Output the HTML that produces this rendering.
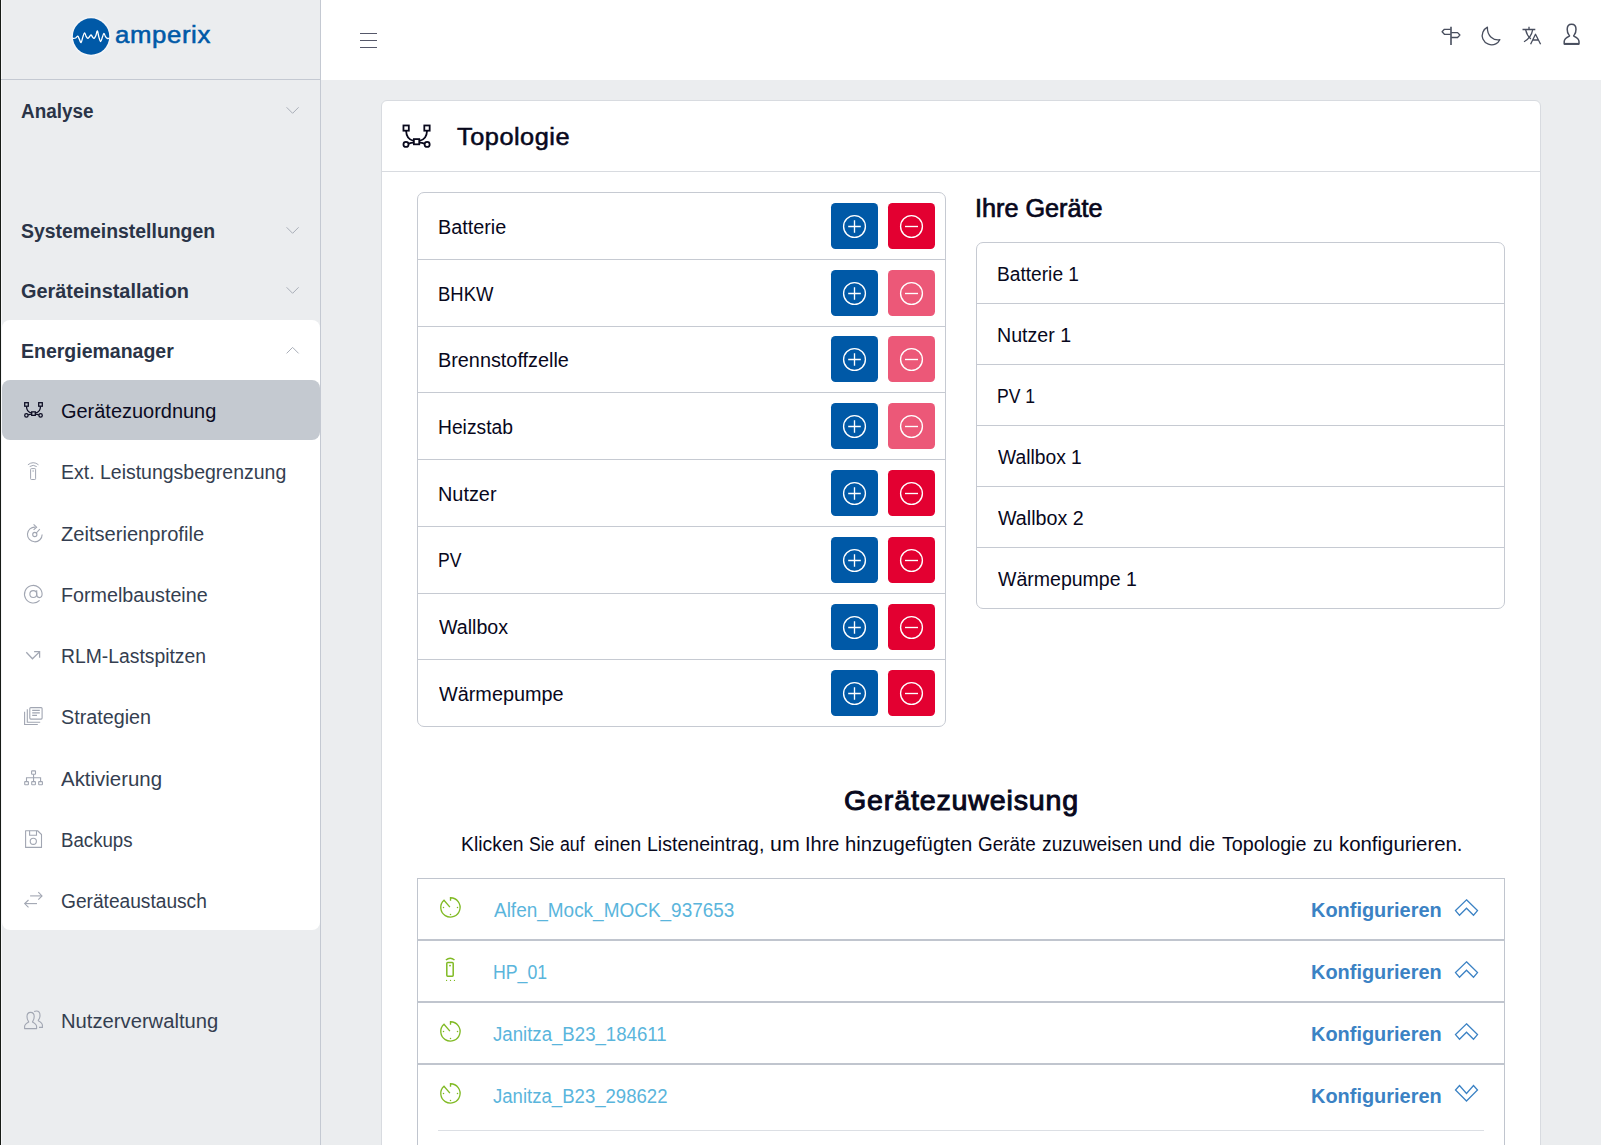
<!DOCTYPE html>
<html lang="de"><head><meta charset="utf-8"><title>amperix – Topologie</title>
<style>
html,body{margin:0;padding:0}
body{width:1601px;height:1145px;overflow:hidden;position:relative;background:#ebedef;font-family:"Liberation Sans", sans-serif;}
div,span,svg{box-sizing:border-box}
</style></head><body>
<!-- left window edge -->
<div style="position:absolute;left:0;top:0;width:1px;height:1145px;background:#171b16"></div>
<div style="position:absolute;left:1px;top:0;width:1px;height:1145px;background:#f6f7f9"></div>
<!-- sidebar -->
<div style="position:absolute;left:320px;top:0;width:1px;height:1145px;background:#c4c9d2"></div>
<div style="position:absolute;left:1px;top:79px;width:320px;height:1px;background:#c4c9d2"></div>
<div style="position:absolute;left:2px;top:320px;width:318px;height:610px;background:#fff;border-radius:8px"></div>
<div style="position:absolute;left:2px;top:380px;width:318px;height:60px;background:#c4c9d0;border-radius:8px"></div>
<svg style="position:absolute;left:60px;top:10px;overflow:visible" width="60" height="55" viewBox="0 0 60 55" ><circle cx="31.05" cy="26.55" r="20.3" fill="#eef0f3"/><circle cx="31.05" cy="26.55" r="19.4" fill="#f6f7f9"/><circle cx="31.05" cy="26.55" r="18.2" fill="#0059a7"/><path d="M12.80 28.40 C13.28 28.33 14.87 28.38 15.70 28.00 C16.53 27.62 17.23 26.00 17.80 26.10 C18.37 26.20 18.55 27.52 19.10 28.60 C19.65 29.68 20.48 32.85 21.10 32.60 C21.72 32.35 22.23 28.73 22.80 27.10 C23.37 25.47 23.95 22.93 24.50 22.80 C25.05 22.67 25.55 25.37 26.10 26.30 C26.65 27.23 27.23 28.33 27.80 28.40 C28.37 28.47 28.95 27.28 29.50 26.70 C30.05 26.12 30.58 24.83 31.10 24.90 C31.62 24.97 32.10 26.52 32.60 27.10 C33.10 27.68 33.55 28.67 34.10 28.40 C34.65 28.13 35.35 26.75 35.90 25.50 C36.45 24.25 36.90 20.63 37.40 20.90 C37.90 21.17 38.35 25.33 38.90 27.10 C39.45 28.87 40.12 31.50 40.70 31.50 C41.28 31.50 41.87 28.45 42.40 27.10 C42.93 25.75 43.38 23.47 43.90 23.40 C44.42 23.33 44.95 25.87 45.50 26.70 C46.05 27.53 46.57 28.12 47.20 28.40 C47.83 28.68 48.95 28.40 49.30 28.40" fill="none" stroke="#fff" stroke-width="1.3" stroke-linejoin="round" stroke-linecap="butt"/></svg>
<svg style="position:absolute;left:15px;top:395px;overflow:visible" width="40" height="30" viewBox="0 0 40 30" ><g fill="none" stroke="#0b0b22" stroke-width="1.27" stroke-linejoin="miter"><rect x="9.7" y="7.7" width="3.6" height="3.5"/><rect x="23.7" y="7.7" width="3.6" height="3.5"/><rect x="16.7" y="16.85" width="3.6" height="3.5"/><circle cx="11.4" cy="20.4" r="1.7"/><circle cx="25.6" cy="20.4" r="1.7"/><path d="M11.5 11.4 C11.6 15.2 13.6 17.4 16.6 18.0"/><path d="M25.5 11.4 C25.4 15.2 23.4 17.4 20.4 18.0"/><path d="M13.2 19.9 C14.4 19.4 15.4 19.2 16.6 19.2"/><path d="M23.8 19.9 C22.6 19.4 21.6 19.2 20.4 19.2"/></g></svg><svg style="position:absolute;left:15px;top:455px;overflow:visible" width="40" height="30" viewBox="0 0 40 30" ><g fill="none" stroke="#a1a6b2" stroke-width="0.99" stroke-linecap="butt"><rect x="15.6" y="13.6" width="5" height="10.9" rx="0.8"/><circle cx="18.1" cy="16" r="0.75" fill="#a1a6b2" stroke="none"/><path d="M14.7 11.6 Q18.2 9.0 21.7 11.6"/><path d="M12.9 9.8 Q18.2 5.6 23.5 9.8"/></g></svg><svg style="position:absolute;left:15px;top:515px;overflow:visible" width="40" height="30" viewBox="0 0 40 30" ><g fill="none" stroke="#a1a6b2" stroke-width="1.1" stroke-linecap="butt"><path d="M20.4 12.15 A7.35 7.35 0 1 0 27.15 19.5"/><path d="M18.6 9.4 L21.6 12.15 L18.6 14.9"/><circle cx="19.8" cy="19.5" r="2.1"/><path d="M21.3 18.0 L24.8 14.2"/></g></svg><svg style="position:absolute;left:15px;top:580px;overflow:visible" width="40" height="30" viewBox="0 0 40 30" ><g fill="none" stroke="#a1a6b2" stroke-width="1.1" stroke-linecap="butt"><path d="M24.6 20.4 A8.8 8.8 0 1 1 27.1 14.1 C27.1 16.5 26.0 17.6 24.4 17.6 C22.8 17.6 21.7 16.4 21.7 14.6 L21.7 10.2"/><circle cx="18.3" cy="14.1" r="3.45"/></g></svg><svg style="position:absolute;left:15px;top:640px;overflow:visible" width="40" height="30" viewBox="0 0 40 30" ><g fill="none" stroke="#a1a6b2" stroke-width="1.265" stroke-linecap="butt"><path d="M11.3 12.3 L17.45 18.8 L24.5 11.9"/><path d="M19.1 11.7 L24.6 11.7 L24.6 17.8"/></g></svg><svg style="position:absolute;left:15px;top:700px;overflow:visible" width="40" height="30" viewBox="0 0 40 30" ><g fill="none" stroke="#a1a6b2" stroke-width="1.1" stroke-linecap="butt"><rect x="14.8" y="7.6" width="12.3" height="11.5" rx="1"/><path d="M17.2 10.35 H24.8 M17.2 12.85 H24.8 M17.2 15.4 H22"/><path d="M12.3 9.2 V22.3 H25.2"/><path d="M9.6 11.8 V24.5 H22.8"/></g></svg><svg style="position:absolute;left:15px;top:762px;overflow:visible" width="40" height="30" viewBox="0 0 40 30" ><g fill="none" stroke="#a1a6b2" stroke-width="1.1" stroke-linecap="butt"><rect x="16.6" y="8.9" width="3.9" height="3.4" rx="0.5"/><path d="M18.55 12.3 V19.4"/><path d="M11.5 19.4 V15.8 H25.6 V19.4"/><rect x="9.7" y="19.6" width="3.7" height="3.1" rx="0.5"/><rect x="16.7" y="19.6" width="3.7" height="3.1" rx="0.5"/><rect x="23.7" y="19.6" width="3.7" height="3.1" rx="0.5"/></g></svg><svg style="position:absolute;left:15px;top:824px;overflow:visible" width="40" height="30" viewBox="0 0 40 30" ><g fill="none" stroke="#a1a6b2" stroke-width="1.1" stroke-linecap="butt"><path d="M10.6 6.75 H22.6 L26.5 10.5 V23.4 H10.6 Z" stroke-linejoin="round"/><path d="M14.6 6.75 V11.3 H21.5 V6.75"/><circle cx="18.3" cy="17.3" r="3.1"/></g></svg><svg style="position:absolute;left:15px;top:885px;overflow:visible" width="40" height="30" viewBox="0 0 40 30" ><g fill="none" stroke="#a1a6b2" stroke-width="1.1" stroke-linecap="butt"><path d="M15.1 10.9 H26.6"/><path d="M23.3 7.2 L27 10.9 L23.3 14.6"/><path d="M22 18.6 H10.1"/><path d="M13.5 15.0 L9.7 18.6 L13.5 22.3"/></g></svg><svg style="position:absolute;left:15px;top:1005px;overflow:visible" width="40" height="30" viewBox="0 0 40 30" ><g fill="none" stroke="#a1a6b2" stroke-width="1.1" stroke-linecap="butt"><path d="M9.6 23.6 V21.6 C9.6 19.4 11.6 18.2 13.7 17.1 C13.9 16.9 13.6 16.5 13.3 16.1 C12.4 15.0 12.0 13.2 12.0 11.6 C12.0 9.2 13.3 7.4 15.6 7.4 C17.9 7.4 19.2 9.2 19.2 11.6 C19.2 13.2 18.8 15.0 17.9 16.1 C17.6 16.5 17.3 16.9 17.5 17.1 C19.6 18.2 21.6 19.4 21.6 21.6 V23.6 Z" stroke-linejoin="round"/><path d="M19.1 6.6 C19.8 6.2 20.6 6.0 21.4 6.0 C23.7 6.0 25.0 7.8 25.0 10.2 C25.0 11.8 24.6 13.6 23.7 14.7 C23.4 15.1 23.1 15.5 23.3 15.7 C25.4 16.8 27.4 18.0 27.4 20.2 V22.4 H24"/></g></svg>
<svg style="position:absolute;left:0px;top:0px;overflow:visible" width="330" height="400" viewBox="0 0 330 400" ><path d="M286.6 107.3 L292.6 113.3 L298.6 107.3" fill="none" stroke="#a9aeb8" stroke-width="1"/><path d="M286.6 227.3 L292.6 233.3 L298.6 227.3" fill="none" stroke="#a9aeb8" stroke-width="1"/><path d="M286.6 287.3 L292.6 293.3 L298.6 287.3" fill="none" stroke="#a9aeb8" stroke-width="1"/><path d="M286.6 353.4 L292.6 347.4 L298.6 353.4" fill="none" stroke="#a9aeb8" stroke-width="1"/></svg>
<!-- header -->
<div style="position:absolute;left:321px;top:0;width:1280px;height:80px;background:#fff"></div>
<div style="position:absolute;left:360px;top:32.8px;width:17px;height:1.3px;background:#55586a"></div><div style="position:absolute;left:360px;top:39.8px;width:17px;height:1.3px;background:#55586a"></div><div style="position:absolute;left:360px;top:46.9px;width:17px;height:1.3px;background:#55586a"></div>
<svg style="position:absolute;left:1430px;top:15px;overflow:visible" width="160" height="45" viewBox="0 0 160 45" ><g fill="none" stroke="#484e5e" stroke-width="1.3" stroke-linejoin="round"><path d="M21 11.8 V30" stroke-width="1.6"/><path d="M20.7 14.3 H14.4 L12.1 16.8 L14.4 19.3 H20.7"/><path d="M21.2 17.6 H27.6 L29.9 20.05 L27.6 22.5 H21.2"/><path d="M57.4 12.2 C53.2 14.4 51.0 19.4 52.9 23.9 C55.1 29.0 61.0 31.2 65.8 28.8 C67.6 27.9 69.0 26.4 69.8 24.7 C63.6 25.8 57.0 21.0 57.4 12.2 Z"/><g transform="translate(80,0)"><path d="M12.5 14.5 H25.3 M19 11.8 V14.5"/><path d="M22.7 14.6 C21.8 19.8 18.6 24.2 14.0 26.8"/><path d="M15.6 14.6 C16.4 18.4 18.2 21.6 20.8 24.0"/><path d="M20.6 29.2 L25.5 19.3 L30.6 29.2 M22.6 25.0 H28.5"/></g><g transform="translate(80,0)" stroke-width="1.5"><path d="M54.2 29.1 V26.6 C54.2 23.6 56.8 22.3 59.4 21.1 C59.7 20.9 59.3 20.4 58.9 19.9 C57.8 18.5 57.2 16.3 57.2 14.3 C57.2 11.3 58.8 9.2 61.6 9.2 C64.4 9.2 66.0 11.3 66.0 14.3 C66.0 16.3 65.4 18.5 64.3 19.9 C63.9 20.4 63.5 20.9 63.8 21.1 C66.4 22.3 69.0 23.6 69.0 26.6 V29.1 Z"/><path d="M54.2 28.9 H69" stroke-width="2"/></g></g></svg>
<!-- card -->
<div style="position:absolute;left:381px;top:100px;width:1160px;height:1100px;background:#fff;border:1px solid #d8dbe0;border-radius:6px"></div>
<div style="position:absolute;left:382px;top:171px;width:1158px;height:1px;background:#d8dbe0"></div>
<svg style="position:absolute;left:389.49px;top:113.87px;overflow:visible" width="59.6" height="44.7" viewBox="0 0 40 30" ><g fill="none" stroke="#08081c" stroke-width="1.2" stroke-linejoin="miter"><rect x="9.7" y="7.7" width="3.6" height="3.5"/><rect x="23.7" y="7.7" width="3.6" height="3.5"/><rect x="16.7" y="16.85" width="3.6" height="3.5"/><circle cx="11.4" cy="20.4" r="1.7"/><circle cx="25.6" cy="20.4" r="1.7"/><path d="M11.5 11.4 C11.6 15.2 13.6 17.4 16.6 18.0"/><path d="M25.5 11.4 C25.4 15.2 23.4 17.4 20.4 18.0"/><path d="M13.2 19.9 C14.4 19.4 15.4 19.2 16.6 19.2"/><path d="M23.8 19.9 C22.6 19.4 21.6 19.2 20.4 19.2"/></g></svg>
<div style="position:absolute;left:417px;top:192px;width:529px;height:535px;border:1px solid #c6cad2;border-radius:7px;"></div><div style="position:absolute;left:418px;top:259px;width:527px;height:1px;background:#c6cad2"></div><div style="position:absolute;left:418px;top:326px;width:527px;height:1px;background:#c6cad2"></div><div style="position:absolute;left:418px;top:392px;width:527px;height:1px;background:#c6cad2"></div><div style="position:absolute;left:418px;top:459px;width:527px;height:1px;background:#c6cad2"></div><div style="position:absolute;left:418px;top:526px;width:527px;height:1px;background:#c6cad2"></div><div style="position:absolute;left:418px;top:593px;width:527px;height:1px;background:#c6cad2"></div><div style="position:absolute;left:418px;top:659px;width:527px;height:1px;background:#c6cad2"></div>
<div style="position:absolute;left:976px;top:242px;width:529px;height:367px;border:1px solid #c6cad2;border-radius:7px;"></div><div style="position:absolute;left:977px;top:303px;width:527px;height:1px;background:#c6cad2"></div><div style="position:absolute;left:977px;top:364px;width:527px;height:1px;background:#c6cad2"></div><div style="position:absolute;left:977px;top:425px;width:527px;height:1px;background:#c6cad2"></div><div style="position:absolute;left:977px;top:486px;width:527px;height:1px;background:#c6cad2"></div><div style="position:absolute;left:977px;top:547px;width:527px;height:1px;background:#c6cad2"></div>
<div style="position:absolute;left:831px;top:203px;width:47px;height:46px;border-radius:4.5px;background:#0059a7;opacity:1"><svg width="47" height="47" viewBox="0 0 47 47" style="position:absolute;left:0;top:-0.5px"><g fill="none" stroke="#fff" stroke-width="1.35"><circle cx="23.5" cy="23.5" r="10.9"/><path d="M17.2 23.5 H29.8 M23.5 17.2 V29.8"/></g></svg></div><div style="position:absolute;left:888px;top:203px;width:47px;height:46px;border-radius:4.5px;background:#e30031;opacity:1"><svg width="47" height="47" viewBox="0 0 47 47" style="position:absolute;left:0;top:-0.5px"><g fill="none" stroke="#fff" stroke-width="1.35"><circle cx="23.5" cy="23.5" r="10.9"/><path d="M17 23.5 H30" /></g></svg></div><div style="position:absolute;left:831px;top:270px;width:47px;height:46px;border-radius:4.5px;background:#0059a7;opacity:1"><svg width="47" height="47" viewBox="0 0 47 47" style="position:absolute;left:0;top:-0.5px"><g fill="none" stroke="#fff" stroke-width="1.35"><circle cx="23.5" cy="23.5" r="10.9"/><path d="M17.2 23.5 H29.8 M23.5 17.2 V29.8"/></g></svg></div><div style="position:absolute;left:888px;top:270px;width:47px;height:46px;border-radius:4.5px;background:#e30031;opacity:0.65"><svg width="47" height="47" viewBox="0 0 47 47" style="position:absolute;left:0;top:-0.5px"><g fill="none" stroke="#fff" stroke-width="1.35"><circle cx="23.5" cy="23.5" r="10.9"/><path d="M17 23.5 H30" /></g></svg></div><div style="position:absolute;left:831px;top:336px;width:47px;height:46px;border-radius:4.5px;background:#0059a7;opacity:1"><svg width="47" height="47" viewBox="0 0 47 47" style="position:absolute;left:0;top:-0.5px"><g fill="none" stroke="#fff" stroke-width="1.35"><circle cx="23.5" cy="23.5" r="10.9"/><path d="M17.2 23.5 H29.8 M23.5 17.2 V29.8"/></g></svg></div><div style="position:absolute;left:888px;top:336px;width:47px;height:46px;border-radius:4.5px;background:#e30031;opacity:0.65"><svg width="47" height="47" viewBox="0 0 47 47" style="position:absolute;left:0;top:-0.5px"><g fill="none" stroke="#fff" stroke-width="1.35"><circle cx="23.5" cy="23.5" r="10.9"/><path d="M17 23.5 H30" /></g></svg></div><div style="position:absolute;left:831px;top:403px;width:47px;height:46px;border-radius:4.5px;background:#0059a7;opacity:1"><svg width="47" height="47" viewBox="0 0 47 47" style="position:absolute;left:0;top:-0.5px"><g fill="none" stroke="#fff" stroke-width="1.35"><circle cx="23.5" cy="23.5" r="10.9"/><path d="M17.2 23.5 H29.8 M23.5 17.2 V29.8"/></g></svg></div><div style="position:absolute;left:888px;top:403px;width:47px;height:46px;border-radius:4.5px;background:#e30031;opacity:0.65"><svg width="47" height="47" viewBox="0 0 47 47" style="position:absolute;left:0;top:-0.5px"><g fill="none" stroke="#fff" stroke-width="1.35"><circle cx="23.5" cy="23.5" r="10.9"/><path d="M17 23.5 H30" /></g></svg></div><div style="position:absolute;left:831px;top:470px;width:47px;height:46px;border-radius:4.5px;background:#0059a7;opacity:1"><svg width="47" height="47" viewBox="0 0 47 47" style="position:absolute;left:0;top:-0.5px"><g fill="none" stroke="#fff" stroke-width="1.35"><circle cx="23.5" cy="23.5" r="10.9"/><path d="M17.2 23.5 H29.8 M23.5 17.2 V29.8"/></g></svg></div><div style="position:absolute;left:888px;top:470px;width:47px;height:46px;border-radius:4.5px;background:#e30031;opacity:1"><svg width="47" height="47" viewBox="0 0 47 47" style="position:absolute;left:0;top:-0.5px"><g fill="none" stroke="#fff" stroke-width="1.35"><circle cx="23.5" cy="23.5" r="10.9"/><path d="M17 23.5 H30" /></g></svg></div><div style="position:absolute;left:831px;top:537px;width:47px;height:46px;border-radius:4.5px;background:#0059a7;opacity:1"><svg width="47" height="47" viewBox="0 0 47 47" style="position:absolute;left:0;top:-0.5px"><g fill="none" stroke="#fff" stroke-width="1.35"><circle cx="23.5" cy="23.5" r="10.9"/><path d="M17.2 23.5 H29.8 M23.5 17.2 V29.8"/></g></svg></div><div style="position:absolute;left:888px;top:537px;width:47px;height:46px;border-radius:4.5px;background:#e30031;opacity:1"><svg width="47" height="47" viewBox="0 0 47 47" style="position:absolute;left:0;top:-0.5px"><g fill="none" stroke="#fff" stroke-width="1.35"><circle cx="23.5" cy="23.5" r="10.9"/><path d="M17 23.5 H30" /></g></svg></div><div style="position:absolute;left:831px;top:604px;width:47px;height:46px;border-radius:4.5px;background:#0059a7;opacity:1"><svg width="47" height="47" viewBox="0 0 47 47" style="position:absolute;left:0;top:-0.5px"><g fill="none" stroke="#fff" stroke-width="1.35"><circle cx="23.5" cy="23.5" r="10.9"/><path d="M17.2 23.5 H29.8 M23.5 17.2 V29.8"/></g></svg></div><div style="position:absolute;left:888px;top:604px;width:47px;height:46px;border-radius:4.5px;background:#e30031;opacity:1"><svg width="47" height="47" viewBox="0 0 47 47" style="position:absolute;left:0;top:-0.5px"><g fill="none" stroke="#fff" stroke-width="1.35"><circle cx="23.5" cy="23.5" r="10.9"/><path d="M17 23.5 H30" /></g></svg></div><div style="position:absolute;left:831px;top:670px;width:47px;height:46px;border-radius:4.5px;background:#0059a7;opacity:1"><svg width="47" height="47" viewBox="0 0 47 47" style="position:absolute;left:0;top:-0.5px"><g fill="none" stroke="#fff" stroke-width="1.35"><circle cx="23.5" cy="23.5" r="10.9"/><path d="M17.2 23.5 H29.8 M23.5 17.2 V29.8"/></g></svg></div><div style="position:absolute;left:888px;top:670px;width:47px;height:46px;border-radius:4.5px;background:#e30031;opacity:1"><svg width="47" height="47" viewBox="0 0 47 47" style="position:absolute;left:0;top:-0.5px"><g fill="none" stroke="#fff" stroke-width="1.35"><circle cx="23.5" cy="23.5" r="10.9"/><path d="M17 23.5 H30" /></g></svg></div>
<div style="position:absolute;left:417px;top:878px;width:1088px;height:62px;border:1px solid #c0c5ce;"></div><div style="position:absolute;left:417px;top:940px;width:1088px;height:62px;border:1px solid #c0c5ce;"></div><div style="position:absolute;left:417px;top:1002px;width:1088px;height:62px;border:1px solid #c0c5ce;"></div><div style="position:absolute;left:417px;top:1064px;width:1088px;height:200px;border:1px solid #c0c5ce;"></div><div style="position:absolute;left:438px;top:1130px;width:1046px;height:1px;background:#dcdfe4"></div>
<svg style="position:absolute;left:430px;top:890px;overflow:visible" width="40" height="35" viewBox="0 0 40 35" ><g fill="none" stroke="#80ba24" stroke-width="1.35"><path d="M20.5 10.7 V7.75 A9.65 9.65 0 1 1 14.0 10.2 L19.9 17.1" stroke-linejoin="miter"/></g><g fill="#80ba24"><circle cx="13.5" cy="17.45" r="0.75"/><circle cx="27.5" cy="17.45" r="0.75"/><circle cx="20.5" cy="24.45" r="0.75"/></g></svg><svg style="position:absolute;left:430px;top:950px;overflow:visible" width="40" height="35" viewBox="0 0 40 35" ><g fill="none" stroke="#80ba24" stroke-width="1.5"><rect x="16.8" y="12.6" width="6.4" height="13.6" rx="0.9"/><path d="M15.9 10.1 Q20.2 6.2 24.5 10.1" stroke-width="1.4"/></g><g fill="#80ba24"><circle cx="20" cy="15.6" r="0.95"/><rect x="16.0" y="29.9" width="1.1" height="1.1"/><rect x="19.95" y="29.9" width="1.1" height="1.1"/><rect x="23.9" y="29.9" width="1.1" height="1.1"/></g></svg><svg style="position:absolute;left:430px;top:1014px;overflow:visible" width="40" height="35" viewBox="0 0 40 35" ><g fill="none" stroke="#80ba24" stroke-width="1.35"><path d="M20.5 10.7 V7.75 A9.65 9.65 0 1 1 14.0 10.2 L19.9 17.1" stroke-linejoin="miter"/></g><g fill="#80ba24"><circle cx="13.5" cy="17.45" r="0.75"/><circle cx="27.5" cy="17.45" r="0.75"/><circle cx="20.5" cy="24.45" r="0.75"/></g></svg><svg style="position:absolute;left:430px;top:1076px;overflow:visible" width="40" height="35" viewBox="0 0 40 35" ><g fill="none" stroke="#80ba24" stroke-width="1.35"><path d="M20.5 10.7 V7.75 A9.65 9.65 0 1 1 14.0 10.2 L19.9 17.1" stroke-linejoin="miter"/></g><g fill="#80ba24"><circle cx="13.5" cy="17.45" r="0.75"/><circle cx="27.5" cy="17.45" r="0.75"/><circle cx="20.5" cy="24.45" r="0.75"/></g></svg>
<svg style="position:absolute;left:0px;top:0px;overflow:visible" width="1601" height="1145" viewBox="0 0 1601 1145" ><polygon points="1466.5,899.8 1477.5,910.6 1473.5,915.2 1466.5,908.2 1459.5,915.2 1455.5,910.6" fill="none" stroke="#3b82c4" stroke-width="1.3" stroke-linejoin="miter"/><polygon points="1466.5,961.8 1477.5,972.6 1473.5,977.2 1466.5,970.2 1459.5,977.2 1455.5,972.6" fill="none" stroke="#3b82c4" stroke-width="1.3" stroke-linejoin="miter"/><polygon points="1466.5,1023.8 1477.5,1034.6 1473.5,1039.2 1466.5,1032.2 1459.5,1039.2 1455.5,1034.6" fill="none" stroke="#3b82c4" stroke-width="1.3" stroke-linejoin="miter"/><polygon points="1466.5,1101 1477.5,1090 1473.5,1085.5 1466.5,1093.4 1459.5,1085.5 1455.5,1090" fill="none" stroke="#3b82c4" stroke-width="1.3" stroke-linejoin="miter"/></svg>
<span style="position:absolute;left:21.00px;top:96.04px;line-height:30px;font-size:19.5px;font-weight:700;color:#2a3447;white-space:nowrap;transform-origin:0 50%;transform:scaleX(0.9700);">Analyse</span>
<span style="position:absolute;left:21.00px;top:216.14px;line-height:30px;font-size:19.5px;font-weight:700;color:#2a3447;white-space:nowrap;transform-origin:0 50%;transform:scaleX(0.9951);">Systemeinstellungen</span>
<span style="position:absolute;left:21.00px;top:276.14px;line-height:30px;font-size:19.5px;font-weight:700;color:#2a3447;white-space:nowrap;transform-origin:0 50%;transform:scaleX(1.0195);">Geräteinstallation</span>
<span style="position:absolute;left:21.00px;top:336.14px;line-height:30px;font-size:19.5px;font-weight:700;color:#2a3447;white-space:nowrap;transform-origin:0 50%;transform:scaleX(0.9999);">Energiemanager</span>
<span style="position:absolute;left:61.25px;top:396.04px;line-height:30px;font-size:19.5px;font-weight:400;color:#0b0b22;white-space:nowrap;transform-origin:0 50%;transform:scaleX(1.0230);">Gerätezuordnung</span>
<span style="position:absolute;left:61.25px;top:457.34px;line-height:30px;font-size:19.5px;font-weight:400;color:#343e50;white-space:nowrap;transform-origin:0 50%;transform:scaleX(0.9989);">Ext. Leistungsbegrenzung</span>
<span style="position:absolute;left:61.25px;top:518.64px;line-height:30px;font-size:19.5px;font-weight:400;color:#343e50;white-space:nowrap;transform-origin:0 50%;transform:scaleX(1.0313);">Zeitserienprofile</span>
<span style="position:absolute;left:61.25px;top:579.84px;line-height:30px;font-size:19.5px;font-weight:400;color:#343e50;white-space:nowrap;transform-origin:0 50%;transform:scaleX(1.0097);">Formelbausteine</span>
<span style="position:absolute;left:61.25px;top:641.04px;line-height:30px;font-size:19.5px;font-weight:400;color:#343e50;white-space:nowrap;transform-origin:0 50%;transform:scaleX(0.9913);">RLM-Lastspitzen</span>
<span style="position:absolute;left:61.25px;top:702.24px;line-height:30px;font-size:19.5px;font-weight:400;color:#343e50;white-space:nowrap;transform-origin:0 50%;transform:scaleX(1.0131);">Strategien</span>
<span style="position:absolute;left:61.25px;top:763.64px;line-height:30px;font-size:19.5px;font-weight:400;color:#343e50;white-space:nowrap;transform-origin:0 50%;transform:scaleX(1.0479);">Aktivierung</span>
<span style="position:absolute;left:61.25px;top:824.84px;line-height:30px;font-size:19.5px;font-weight:400;color:#343e50;white-space:nowrap;transform-origin:0 50%;transform:scaleX(0.9568);">Backups</span>
<span style="position:absolute;left:61.25px;top:886.04px;line-height:30px;font-size:19.5px;font-weight:400;color:#343e50;white-space:nowrap;transform-origin:0 50%;transform:scaleX(0.9820);">Geräteaustausch</span>
<span style="position:absolute;left:61.25px;top:1005.84px;line-height:30px;font-size:19.5px;font-weight:400;color:#343e50;white-space:nowrap;transform-origin:0 50%;transform:scaleX(1.0365);">Nutzerverwaltung</span>
<span style="position:absolute;left:114.85px;top:19.88px;line-height:30px;font-size:24.6px;font-weight:400;color:#0059a7;white-space:nowrap;transform-origin:0 50%;transform:scaleX(1.0466);letter-spacing:0.6px;-webkit-text-stroke:0.55px #0059a7;">amperix</span>
<span style="position:absolute;left:457.20px;top:122.14px;line-height:30px;font-size:24.7px;font-weight:400;color:#08081c;white-space:nowrap;transform-origin:0 50%;transform:scaleX(1.0260);letter-spacing:0.5px;-webkit-text-stroke:0.55px #08081c;">Topologie</span>
<span style="position:absolute;left:975.48px;top:192.84px;line-height:30px;font-size:25px;font-weight:400;color:#08081c;white-space:nowrap;transform-origin:0 50%;transform:scaleX(1.0085);-webkit-text-stroke:0.7px #08081c;">Ihre Geräte</span>
<span style="position:absolute;left:438.18px;top:211.84px;line-height:30px;font-size:19.5px;font-weight:400;color:#08081c;white-space:nowrap;transform-origin:0 50%;transform:scaleX(1.0159);">Batterie</span>
<span style="position:absolute;left:438.25px;top:278.56px;line-height:30px;font-size:19.5px;font-weight:400;color:#08081c;white-space:nowrap;transform-origin:0 50%;transform:scaleX(0.9467);">BHKW</span>
<span style="position:absolute;left:438.18px;top:345.28px;line-height:30px;font-size:19.5px;font-weight:400;color:#08081c;white-space:nowrap;transform-origin:0 50%;transform:scaleX(1.0174);">Brennstoffzelle</span>
<span style="position:absolute;left:438.21px;top:412.00px;line-height:30px;font-size:19.5px;font-weight:400;color:#08081c;white-space:nowrap;transform-origin:0 50%;transform:scaleX(0.9877);">Heizstab</span>
<span style="position:absolute;left:438.18px;top:478.72px;line-height:30px;font-size:19.5px;font-weight:400;color:#08081c;white-space:nowrap;transform-origin:0 50%;transform:scaleX(1.0186);">Nutzer</span>
<span style="position:absolute;left:438.30px;top:545.44px;line-height:30px;font-size:19.5px;font-weight:400;color:#08081c;white-space:nowrap;transform-origin:0 50%;transform:scaleX(0.9000);">PV</span>
<span style="position:absolute;left:439.20px;top:612.16px;line-height:30px;font-size:19.5px;font-weight:400;color:#08081c;white-space:nowrap;transform-origin:0 50%;transform:scaleX(1.0061);">Wallbox</span>
<span style="position:absolute;left:439.20px;top:678.88px;line-height:30px;font-size:19.5px;font-weight:400;color:#08081c;white-space:nowrap;transform-origin:0 50%;transform:scaleX(1.0172);">Wärmepumpe</span>
<span style="position:absolute;left:997.22px;top:258.84px;line-height:30px;font-size:19.5px;font-weight:400;color:#08081c;white-space:nowrap;transform-origin:0 50%;transform:scaleX(0.9826);">Batterie 1</span>
<span style="position:absolute;left:997.19px;top:319.84px;line-height:30px;font-size:19.5px;font-weight:400;color:#08081c;white-space:nowrap;transform-origin:0 50%;transform:scaleX(1.0062);">Nutzer 1</span>
<span style="position:absolute;left:997.30px;top:380.84px;line-height:30px;font-size:19.5px;font-weight:400;color:#08081c;white-space:nowrap;transform-origin:0 50%;transform:scaleX(0.9000);">PV 1</span>
<span style="position:absolute;left:998.20px;top:441.84px;line-height:30px;font-size:19.5px;font-weight:400;color:#08081c;white-space:nowrap;transform-origin:0 50%;transform:scaleX(0.9875);">Wallbox 1</span>
<span style="position:absolute;left:998.20px;top:502.84px;line-height:30px;font-size:19.5px;font-weight:400;color:#08081c;white-space:nowrap;transform-origin:0 50%;transform:scaleX(1.0089);">Wallbox 2</span>
<span style="position:absolute;left:998.20px;top:563.84px;line-height:30px;font-size:19.5px;font-weight:400;color:#08081c;white-space:nowrap;transform-origin:0 50%;transform:scaleX(1.0009);">Wärmepumpe 1</span>
<span style="position:absolute;left:843.56px;top:786.44px;line-height:30px;font-size:27.6px;font-weight:400;color:#08081c;white-space:nowrap;transform-origin:0 50%;transform:scaleX(1.0363);letter-spacing:0.8px;-webkit-text-stroke:0.95px #08081c;">Gerätezuweisung</span>
<span style="position:absolute;left:460.71px;top:828.94px;line-height:30px;font-size:19.5px;font-weight:400;color:#08081c;white-space:nowrap;transform-origin:0 50%;transform:scaleX(0.9932);">Klicken</span>
<span style="position:absolute;left:529.20px;top:828.94px;line-height:30px;font-size:19.5px;font-weight:400;color:#08081c;white-space:nowrap;transform-origin:0 50%;transform:scaleX(0.9000);">Sie</span>
<span style="position:absolute;left:560.40px;top:828.94px;line-height:30px;font-size:19.5px;font-weight:400;color:#08081c;white-space:nowrap;transform-origin:0 50%;transform:scaleX(0.9101);">auf</span>
<span style="position:absolute;left:593.70px;top:828.94px;line-height:30px;font-size:19.5px;font-weight:400;color:#08081c;white-space:nowrap;transform-origin:0 50%;transform:scaleX(0.9879);">einen</span>
<span style="position:absolute;left:647.40px;top:828.94px;line-height:30px;font-size:19.5px;font-weight:400;color:#08081c;white-space:nowrap;transform-origin:0 50%;transform:scaleX(1.0021);">Listeneintrag,</span>
<span style="position:absolute;left:770.40px;top:828.94px;line-height:30px;font-size:19.5px;font-weight:400;color:#08081c;white-space:nowrap;transform-origin:0 50%;transform:scaleX(1.0988);">um</span>
<span style="position:absolute;left:805.38px;top:828.94px;line-height:30px;font-size:19.5px;font-weight:400;color:#08081c;white-space:nowrap;transform-origin:0 50%;transform:scaleX(1.0234);">Ihre</span>
<span style="position:absolute;left:844.66px;top:828.94px;line-height:30px;font-size:19.5px;font-weight:400;color:#08081c;white-space:nowrap;transform-origin:0 50%;transform:scaleX(1.0391);">hinzugefügten</span>
<span style="position:absolute;left:978.40px;top:828.94px;line-height:30px;font-size:19.5px;font-weight:400;color:#08081c;white-space:nowrap;transform-origin:0 50%;transform:scaleX(0.9682);">Geräte</span>
<span style="position:absolute;left:1041.80px;top:828.94px;line-height:30px;font-size:19.5px;font-weight:400;color:#08081c;white-space:nowrap;transform-origin:0 50%;transform:scaleX(0.9877);">zuzuweisen</span>
<span style="position:absolute;left:1148.36px;top:828.94px;line-height:30px;font-size:19.5px;font-weight:400;color:#08081c;white-space:nowrap;transform-origin:0 50%;transform:scaleX(1.0427);">und</span>
<span style="position:absolute;left:1188.70px;top:828.94px;line-height:30px;font-size:19.5px;font-weight:400;color:#08081c;white-space:nowrap;transform-origin:0 50%;transform:scaleX(1.0049);">die</span>
<span style="position:absolute;left:1222.20px;top:828.94px;line-height:30px;font-size:19.5px;font-weight:400;color:#08081c;white-space:nowrap;transform-origin:0 50%;transform:scaleX(1.0116);">Topologie</span>
<span style="position:absolute;left:1313.10px;top:828.94px;line-height:30px;font-size:19.5px;font-weight:400;color:#08081c;white-space:nowrap;transform-origin:0 50%;transform:scaleX(0.9468);">zu</span>
<span style="position:absolute;left:1338.85px;top:828.94px;line-height:30px;font-size:19.5px;font-weight:400;color:#08081c;white-space:nowrap;transform-origin:0 50%;transform:scaleX(1.0455);">konfigurieren.</span>
<span style="position:absolute;left:493.60px;top:894.84px;line-height:30px;font-size:19.5px;font-weight:400;color:#5ab5dc;white-space:nowrap;transform-origin:0 50%;transform:scaleX(0.9728);">Alfen_Mock_MOCK_937653</span>
<span style="position:absolute;left:1311.48px;top:894.84px;line-height:30px;font-size:19.5px;font-weight:700;color:#3b82c4;white-space:nowrap;transform-origin:0 50%;transform:scaleX(1.0220);">Konfigurieren</span>
<span style="position:absolute;left:492.69px;top:956.84px;line-height:30px;font-size:19.5px;font-weight:400;color:#5ab5dc;white-space:nowrap;transform-origin:0 50%;transform:scaleX(0.9086);">HP_01</span>
<span style="position:absolute;left:1311.48px;top:956.84px;line-height:30px;font-size:19.5px;font-weight:700;color:#3b82c4;white-space:nowrap;transform-origin:0 50%;transform:scaleX(1.0220);">Konfigurieren</span>
<span style="position:absolute;left:492.60px;top:1018.84px;line-height:30px;font-size:19.5px;font-weight:400;color:#5ab5dc;white-space:nowrap;transform-origin:0 50%;transform:scaleX(0.9550);">Janitza_B23_184611</span>
<span style="position:absolute;left:1311.48px;top:1018.84px;line-height:30px;font-size:19.5px;font-weight:700;color:#3b82c4;white-space:nowrap;transform-origin:0 50%;transform:scaleX(1.0220);">Konfigurieren</span>
<span style="position:absolute;left:492.60px;top:1080.84px;line-height:30px;font-size:19.5px;font-weight:400;color:#5ab5dc;white-space:nowrap;transform-origin:0 50%;transform:scaleX(0.9523);">Janitza_B23_298622</span>
<span style="position:absolute;left:1311.48px;top:1080.84px;line-height:30px;font-size:19.5px;font-weight:700;color:#3b82c4;white-space:nowrap;transform-origin:0 50%;transform:scaleX(1.0220);">Konfigurieren</span>

</body></html>
